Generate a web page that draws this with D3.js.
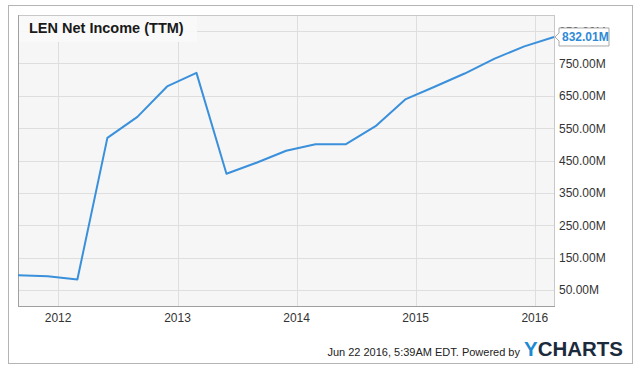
<!DOCTYPE html>
<html>
<head>
<meta charset="utf-8">
<script src="https://cdn.jsdelivr.net/npm/d3@7"></script>
<style>
  body { margin: 0; background: #fff; }
  svg { font-family: "Liberation Sans", Arial, sans-serif; }
</style>
</head>
<body>
<svg id="chart" width="640" height="377"></svg>
<script>
// quarter ends (Lennar fiscal quarters) and TTM net income in $M
const dates = ['2011-08-31', '2011-11-30', '2012-02-29', '2012-05-31', '2012-08-31', '2012-11-30',
  '2013-02-28', '2013-05-31', '2013-08-31', '2013-11-30', '2014-02-28', '2014-05-31',
  '2014-08-31', '2014-11-30', '2015-02-28', '2015-05-31', '2015-08-31', '2015-11-30', '2016-02-29'];
const netIncome = [95, 92, 82, 520, 585, 679, 721, 409, 443, 480, 500, 500,
  556, 639, 678, 719, 765, 803, 832.01];
const yTicks = [50, 150, 250, 350, 450, 550, 650, 750, 850];
const xTicks = ['2012', '2013', '2014', '2015', '2016'];

const parse = d3.timeParse('%Y-%m-%d');
const data = dates.map((d, i) => ({ date: parse(d), v: netIncome[i] }));

const svg = d3.select('#chart');
const pLeft = 18, pRight = 554, pTop = 15, pBottom = 306;

const x = d3.scaleTime()
  .domain([parse('2011-08-31'), parse('2016-02-29')])
  .range([pLeft, pRight]);
const y = d3.scaleLinear().domain([0, 900]).range([pBottom, pTop]);

// outer frame
svg.append('rect')
  .attr('x', 8.5).attr('y', 5.5).attr('width', 624).attr('height', 358)
  .attr('fill', '#fff').attr('stroke', '#b4b4b4');

// plot background
svg.append('rect')
  .attr('x', pLeft).attr('y', pTop).attr('width', pRight - pLeft).attr('height', pBottom - pTop)
  .attr('fill', '#f6f6f6');

// grid
svg.append('g').selectAll('line').data(yTicks).join('line')
  .attr('x1', pLeft).attr('x2', pRight)
  .attr('y1', d => Math.round(y(d)) + 0.5).attr('y2', d => Math.round(y(d)) + 0.5)
  .attr('stroke', '#dedede');
svg.append('g').selectAll('line').data(xTicks).join('line')
  .attr('x1', d => Math.round(x(parse(d + '-01-01'))) + 0.5)
  .attr('x2', d => Math.round(x(parse(d + '-01-01'))) + 0.5)
  .attr('y1', pTop).attr('y2', pBottom)
  .attr('stroke', '#dedede');

// plot frame
svg.append('rect')
  .attr('x', pLeft + 0.5).attr('y', pTop + 0.5).attr('width', pRight - pLeft).attr('height', pBottom - pTop)
  .attr('fill', 'none').attr('stroke', '#c8c8c8');
svg.append('line')
  .attr('x1', pLeft + 0.5).attr('x2', pLeft + 0.5).attr('y1', pTop).attr('y2', pBottom + 1)
  .attr('stroke', '#a0a0a0');
svg.append('line')
  .attr('x1', pLeft).attr('x2', pRight + 1).attr('y1', pBottom + 0.5).attr('y2', pBottom + 0.5)
  .attr('stroke', '#a0a0a0');

// title box
svg.append('rect')
  .attr('x', pLeft + 1).attr('y', pTop + 1).attr('width', 178).attr('height', 26)
  .attr('fill', '#fafafa').attr('opacity', 0.9);
svg.append('text')
  .attr('x', 29).attr('y', 33)
  .attr('font-size', 14.5).attr('font-weight', 'bold').attr('fill', '#1a1a1a')
  .text('LEN Net Income (TTM)');

// y labels
svg.append('g').selectAll('text').data(yTicks).join('text')
  .attr('x', 559).attr('y', d => y(d) + 4.5)
  .attr('font-size', 12).attr('fill', '#333')
  .text(d => d3.format('.2f')(d) + 'M');

// x labels
svg.append('g').selectAll('text').data(xTicks).join('text')
  .attr('x', d => x(parse(d + '-01-01'))).attr('y', 322)
  .attr('text-anchor', 'middle')
  .attr('font-size', 12).attr('fill', '#333')
  .text(d => d);

// line
const line = d3.line().x(d => x(d.date)).y(d => y(d.v));
svg.append('path').datum(data)
  .attr('d', line)
  .attr('fill', 'none').attr('stroke', '#3a90db').attr('stroke-width', 2)
  .attr('stroke-linejoin', 'round');

// last value flag
const last = data[data.length - 1];
const ly = y(last.v);
const fx = pRight + 5;
svg.append('path')
  .attr('d', `M${pRight + 1},${ly} L${fx},${ly - 4} L${fx},${ly - 9} L${fx + 50},${ly - 9} L${fx + 50},${ly + 9} L${fx},${ly + 9} L${fx},${ly + 4} Z`)
  .attr('fill', '#fff').attr('stroke', '#a8a8a8');
svg.append('text')
  .attr('x', fx + 3).attr('y', ly + 4.5)
  .attr('font-size', 12).attr('font-weight', 'bold').attr('fill', '#2f8ad8')
  .text(d3.format('.2f')(last.v) + 'M');

// footer
svg.append('text')
  .attr('x', 520).attr('y', 356)
  .attr('text-anchor', 'end')
  .attr('font-size', 11).attr('fill', '#222')
  .text('Jun 22 2016, 5:39AM EDT.  Powered by');
const logo = svg.append('text')
  .attr('x', 524).attr('y', 356)
  .attr('font-size', 20).attr('font-weight', 'bold')
  .attr('textLength', 99).attr('lengthAdjust', 'spacingAndGlyphs');
logo.append('tspan').attr('fill', '#1b8ad3').text('Y');
logo.append('tspan').attr('fill', '#1c2b3c').text('CHARTS');
</script>
</body>
</html>
